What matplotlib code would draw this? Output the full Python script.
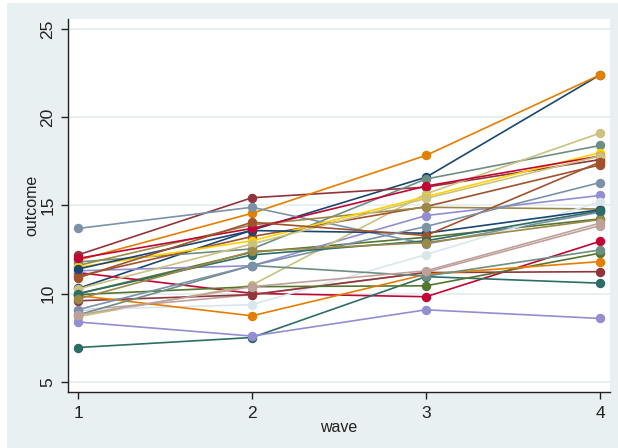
import matplotlib
matplotlib.use("Agg")
import matplotlib.pyplot as plt
from matplotlib.patches import Rectangle

# Outcome per subject at each wave (one entry per subject, same order in every list)
waves = [1, 2, 3, 4]
wave1 = [10.3, 12.2, 10.0, 11.9, 11.8, 11.2, 11.3, 8.7, 11.0, 13.7, 6.95, 11.6, 9.05, 11.5,
         9.1, 11.4, 9.6, 9.95, 9.9, 8.8, 12.0, 8.4, 10.27, 10.9, 9.1, 10.0, 9.7, 8.8]
wave2 = [13.6, 15.44, 12.35, 14.56, 12.54, 10.02, 11.59, 10.49, 13.24, 14.9, 7.52, 13.9, 9.95, 13.0,
         9.38, 13.58, 9.95, 10.4, 8.75, 11.6, 13.7, 7.6, 12.82, 14.05, 11.6, 12.2, 12.4, 10.4]
wave3 = [16.6, 16.04, 13.2, 17.84, 16.5, 9.83, 14.43, 15.66, 14.94, 12.82, 10.97, 14.9, 11.21, 15.5,
         12.22, 13.43, 11.2, 10.45, 11.1, 11.0, 16.1, 9.09, 15.4, 13.3, 13.81, 13.0, 12.9, 11.3]
wave4 = [22.4, 17.6, 14.24, 22.4, 18.4, 12.97, 15.57, 19.1, 17.3, 14.62, 10.6, 14.8, 13.86, 18.0,
         15.2, 14.76, 11.25, 12.3, 11.82, 12.48, 17.8, 8.6, 17.8, 17.46, 16.3, 14.7, 14.2, 14.0]

# s2color line palette, cycled over subjects
palette = ["#1a476f", "#90353b", "#55752f", "#e37e00", "#6e8e84", "#c10534", "#938dd2",
           "#cac27e", "#a0522d", "#7b92a8", "#2d6d66", "#9c8847", "#bfa19c", "#ffd200",
           "#d9e6eb"]

yticks = [5, 10, 15, 20, 25]

W, H = 618, 448
fig = plt.figure(figsize=(W / 100, H / 100), dpi=100, facecolor="white")
plt.rcParams["font.family"] = ["Liberation Sans", "DejaVu Sans"]

# graph region background
fig.patches.append(Rectangle((7 / W, 0), 1 - 7 / W, 1 - 3 / H, transform=fig.transFigure,
                             facecolor="#e8f0f2", edgecolor="none", zorder=-10))

ax = fig.add_axes([68 / W, 1 - 392 / H, (610 - 68) / W, (392 - 19) / H])
ax.set_zorder(1)
ax.set_facecolor("white")

for i in range(len(wave1)):
    ys = [wave1[i], wave2[i], wave3[i], wave4[i]]
    c = palette[i % len(palette)]
    ax.plot(waves, ys, color=c, lw=1.2, marker="o", ms=5.8, mec=c, mfc=c, zorder=3)

ax.set_xlim(1 - 10 / 174, 4 + 10 / 174)
ax.set_ylim(5 - 10 / 17.6, 25 + 10 / 17.6)
ax.set_xticks(waves)
ax.set_yticks(yticks)
ax.set_yticklabels([str(t) for t in yticks], rotation=90, va="center")
ax.grid(axis="y", color="#e6eef0", lw=1.3, zorder=0)
ax.set_axisbelow(True)

for s in ["top", "right"]:
    ax.spines[s].set_visible(False)
for s in ["left", "bottom"]:
    ax.spines[s].set_color("#222222")
    ax.spines[s].set_linewidth(1.0)

ax.tick_params(axis="both", direction="out", length=5, width=1.0, color="#222222",
               labelsize=12.5, labelcolor="#222222")
ax.tick_params(axis="y", pad=4)
ax.tick_params(axis="x", pad=5)

ax.set_xlabel("wave", fontsize=11.5, color="#222222", labelpad=-1)
ax.set_ylabel("outcome", fontsize=11.5, color="#222222", labelpad=1)

fig.savefig("out.png", dpi=100, facecolor=fig.get_facecolor())
